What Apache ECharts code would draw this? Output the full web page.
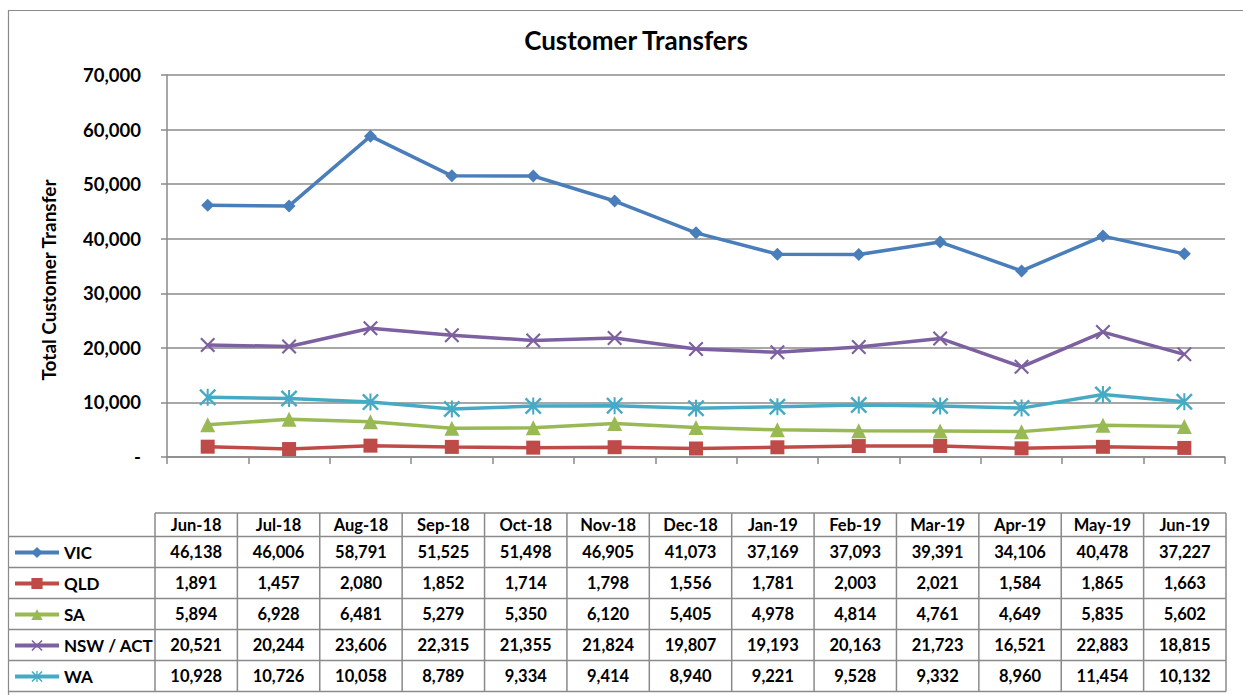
<!DOCTYPE html>
<html>
<head>
<meta charset="utf-8">
<script src="https://cdn.jsdelivr.net/npm/echarts@6/dist/echarts.min.js"></script>
<style>
  html, body { margin: 0; padding: 0; background: #fff; }
  #chart { width: 1243px; height: 695px; }
</style>
</head>
<body>
<div id="chart"></div>
<script>
const months = ["Jun-18", "Jul-18", "Aug-18", "Sep-18", "Oct-18", "Nov-18", "Dec-18",
  "Jan-19", "Feb-19", "Mar-19", "Apr-19", "May-19", "Jun-19"];

const vic = [46138, 46006, 58791, 51525, 51498, 46905, 41073, 37169, 37093, 39391, 34106, 40478, 37227];
const qld = [1891, 1457, 2080, 1852, 1714, 1798, 1556, 1781, 2003, 2021, 1584, 1865, 1663];
const sa = [5894, 6928, 6481, 5279, 5350, 6120, 5405, 4978, 4814, 4761, 4649, 5835, 5602];
const nsw = [20521, 20244, 23606, 22315, 21355, 21824, 19807, 19193, 20163, 21723, 16521, 22883, 18815];
const wa = [10928, 10726, 10058, 8789, 9334, 9414, 8940, 9221, 9528, 9332, 8960, 11454, 10132];

const yTicks = [0, 10000, 20000, 30000, 40000, 50000, 60000, 70000];

const FONT = "Lato, 'Liberation Sans', sans-serif";
const GRID_GRAY = "#8a8a8a";

const xPath = "path://M0,1 L1,0 L5,4 L9,0 L10,1 L6,5 L10,9 L9,10 L5,6 L1,10 L0,9 L4,5 Z";
const starPath = "path://M0,1 L1,0 L5,4 L9,0 L10,1 L6,5 L10,9 L9,10 L5,6 L1,10 L0,9 L4,5 Z M4.4,0 L5.6,0 L5.6,10 L4.4,10 Z";

const seriesDefs = [
  { name: "VIC", data: vic, color: "#4a7ebb", symbol: "diamond", size: 13 },
  { name: "QLD", data: qld, color: "#be4b48", symbol: "rect", size: 14 },
  { name: "SA", data: sa, color: "#98b954", symbol: "triangle", size: 15 },
  { name: "NSW / ACT", data: nsw, color: "#7d60a0", symbol: xPath, size: 15 },
  { name: "WA", data: wa, color: "#46aac5", symbol: starPath, size: 17 },
];

function fmt(v) {
  return v === 0 ? "-" : v.toLocaleString("en-US");
}

// data table below the plot
const tblLeft = 155, tblRight = 1226, frameLeft = 8;
const colW = (tblRight - tblLeft) / months.length;
const headTop = 513, headBottom = 536.5, rowH = 31;
const tableGraphics = [];
function hline(x1, x2, y) {
  tableGraphics.push({ type: "line", silent: true,
    shape: { x1: x1, y1: y, x2: x2, y2: y },
    style: { stroke: GRID_GRAY, lineWidth: 1.5 } });
}
function vline(x, y1, y2) {
  tableGraphics.push({ type: "line", silent: true,
    shape: { x1: x, y1: y1, x2: x, y2: y2 },
    style: { stroke: GRID_GRAY, lineWidth: 1.5 } });
}
const tableBottom = headBottom + rowH * seriesDefs.length;
hline(tblLeft, tblRight, headTop);
for (let r = 0; r <= seriesDefs.length; r++) {
  hline(frameLeft, tblRight, headBottom + r * rowH);
}
for (let c = 0; c <= months.length; c++) {
  vline(tblLeft + c * colW, headTop, tableBottom);
}
months.forEach(function (m, c) {
  tableGraphics.push({ type: "text", silent: true,
    x: tblLeft + (c + 0.5) * colW, y: (headTop + headBottom) / 2,
    style: { text: m, font: "bold 16.5px " + FONT, fill: "#000", align: "center", verticalAlign: "middle" } });
});
seriesDefs.forEach(function (s, r) {
  s.data.forEach(function (v, c) {
    tableGraphics.push({ type: "text", silent: true,
      x: tblLeft + (c + 0.5) * colW, y: headBottom + (r + 0.5) * rowH,
      style: { text: fmt(v), font: "bold 16.5px " + FONT, fill: "#000", align: "center", verticalAlign: "middle" } });
  });
});

// outer frame and axis title
tableGraphics.push({ type: "rect", silent: true,
  shape: { x: 8.5, y: 10.5, width: 1260, height: 720 },
  style: { fill: "none", stroke: GRID_GRAY, lineWidth: 1.2 } });
tableGraphics.push({ type: "text", silent: true, x: 48, y: 280, rotation: Math.PI / 2,
  style: { text: "Total Customer Transfer", font: "bold 19px " + FONT, fill: "#000",
    align: "center", verticalAlign: "middle" } });

// one legend per table row, so each key sits in its row
const legends = seriesDefs.map(function (s, r) {
  return {
    orient: "vertical",
    left: 8,
    top: headBottom + (r + 0.5) * rowH - 13,
    itemWidth: 44,
    itemHeight: 14,
    lineStyle: { width: 4 },
    textStyle: { fontFamily: FONT, fontSize: 17, fontWeight: "bold", color: "#000" },
    data: [s.name],
  };
});

const chart = echarts.init(document.getElementById("chart"), null, { renderer: "svg" });

chart.setOption({
  animation: false,
  backgroundColor: "#fff",
  title: {
    text: "Customer Transfers",
    left: 631,
    top: 22,
    textAlign: "center",
    textStyle: { fontFamily: FONT, fontSize: 26, fontWeight: "bold", color: "#000" },
  },
  legend: legends,
  grid: { left: 167, right: 18, top: 75, bottom: 238 },
  xAxis: {
    type: "category",
    data: months,
    boundaryGap: true,
    axisLine: { lineStyle: { color: GRID_GRAY, width: 1.5 } },
    axisTick: { show: true, length: 7, lineStyle: { color: GRID_GRAY, width: 1.5 } },
    axisLabel: { show: false },
  },
  yAxis: {
    type: "value",
    min: yTicks[0],
    max: yTicks[yTicks.length - 1],
    interval: 10000,
    axisLine: { show: true, lineStyle: { color: GRID_GRAY, width: 1.5 } },
    axisTick: { show: true, length: 6, lineStyle: { color: GRID_GRAY, width: 1.5 } },
    splitLine: { lineStyle: { color: GRID_GRAY, width: 1.5 } },
    axisLabel: {
      margin: 26,
      formatter: fmt,
      fontFamily: FONT, fontSize: 18.5, fontWeight: "bold", color: "#000",
    },
  },
  graphic: tableGraphics,
  series: seriesDefs.map(function (s) {
    return {
      name: s.name,
      type: "line",
      data: s.data,
      symbol: s.symbol,
      symbolSize: s.size,
      showAllSymbol: true,
      color: s.color,
      lineStyle: { width: 3.5, color: s.color },
      itemStyle: { color: s.color },
    };
  }),
});
</script>
</body>
</html>
